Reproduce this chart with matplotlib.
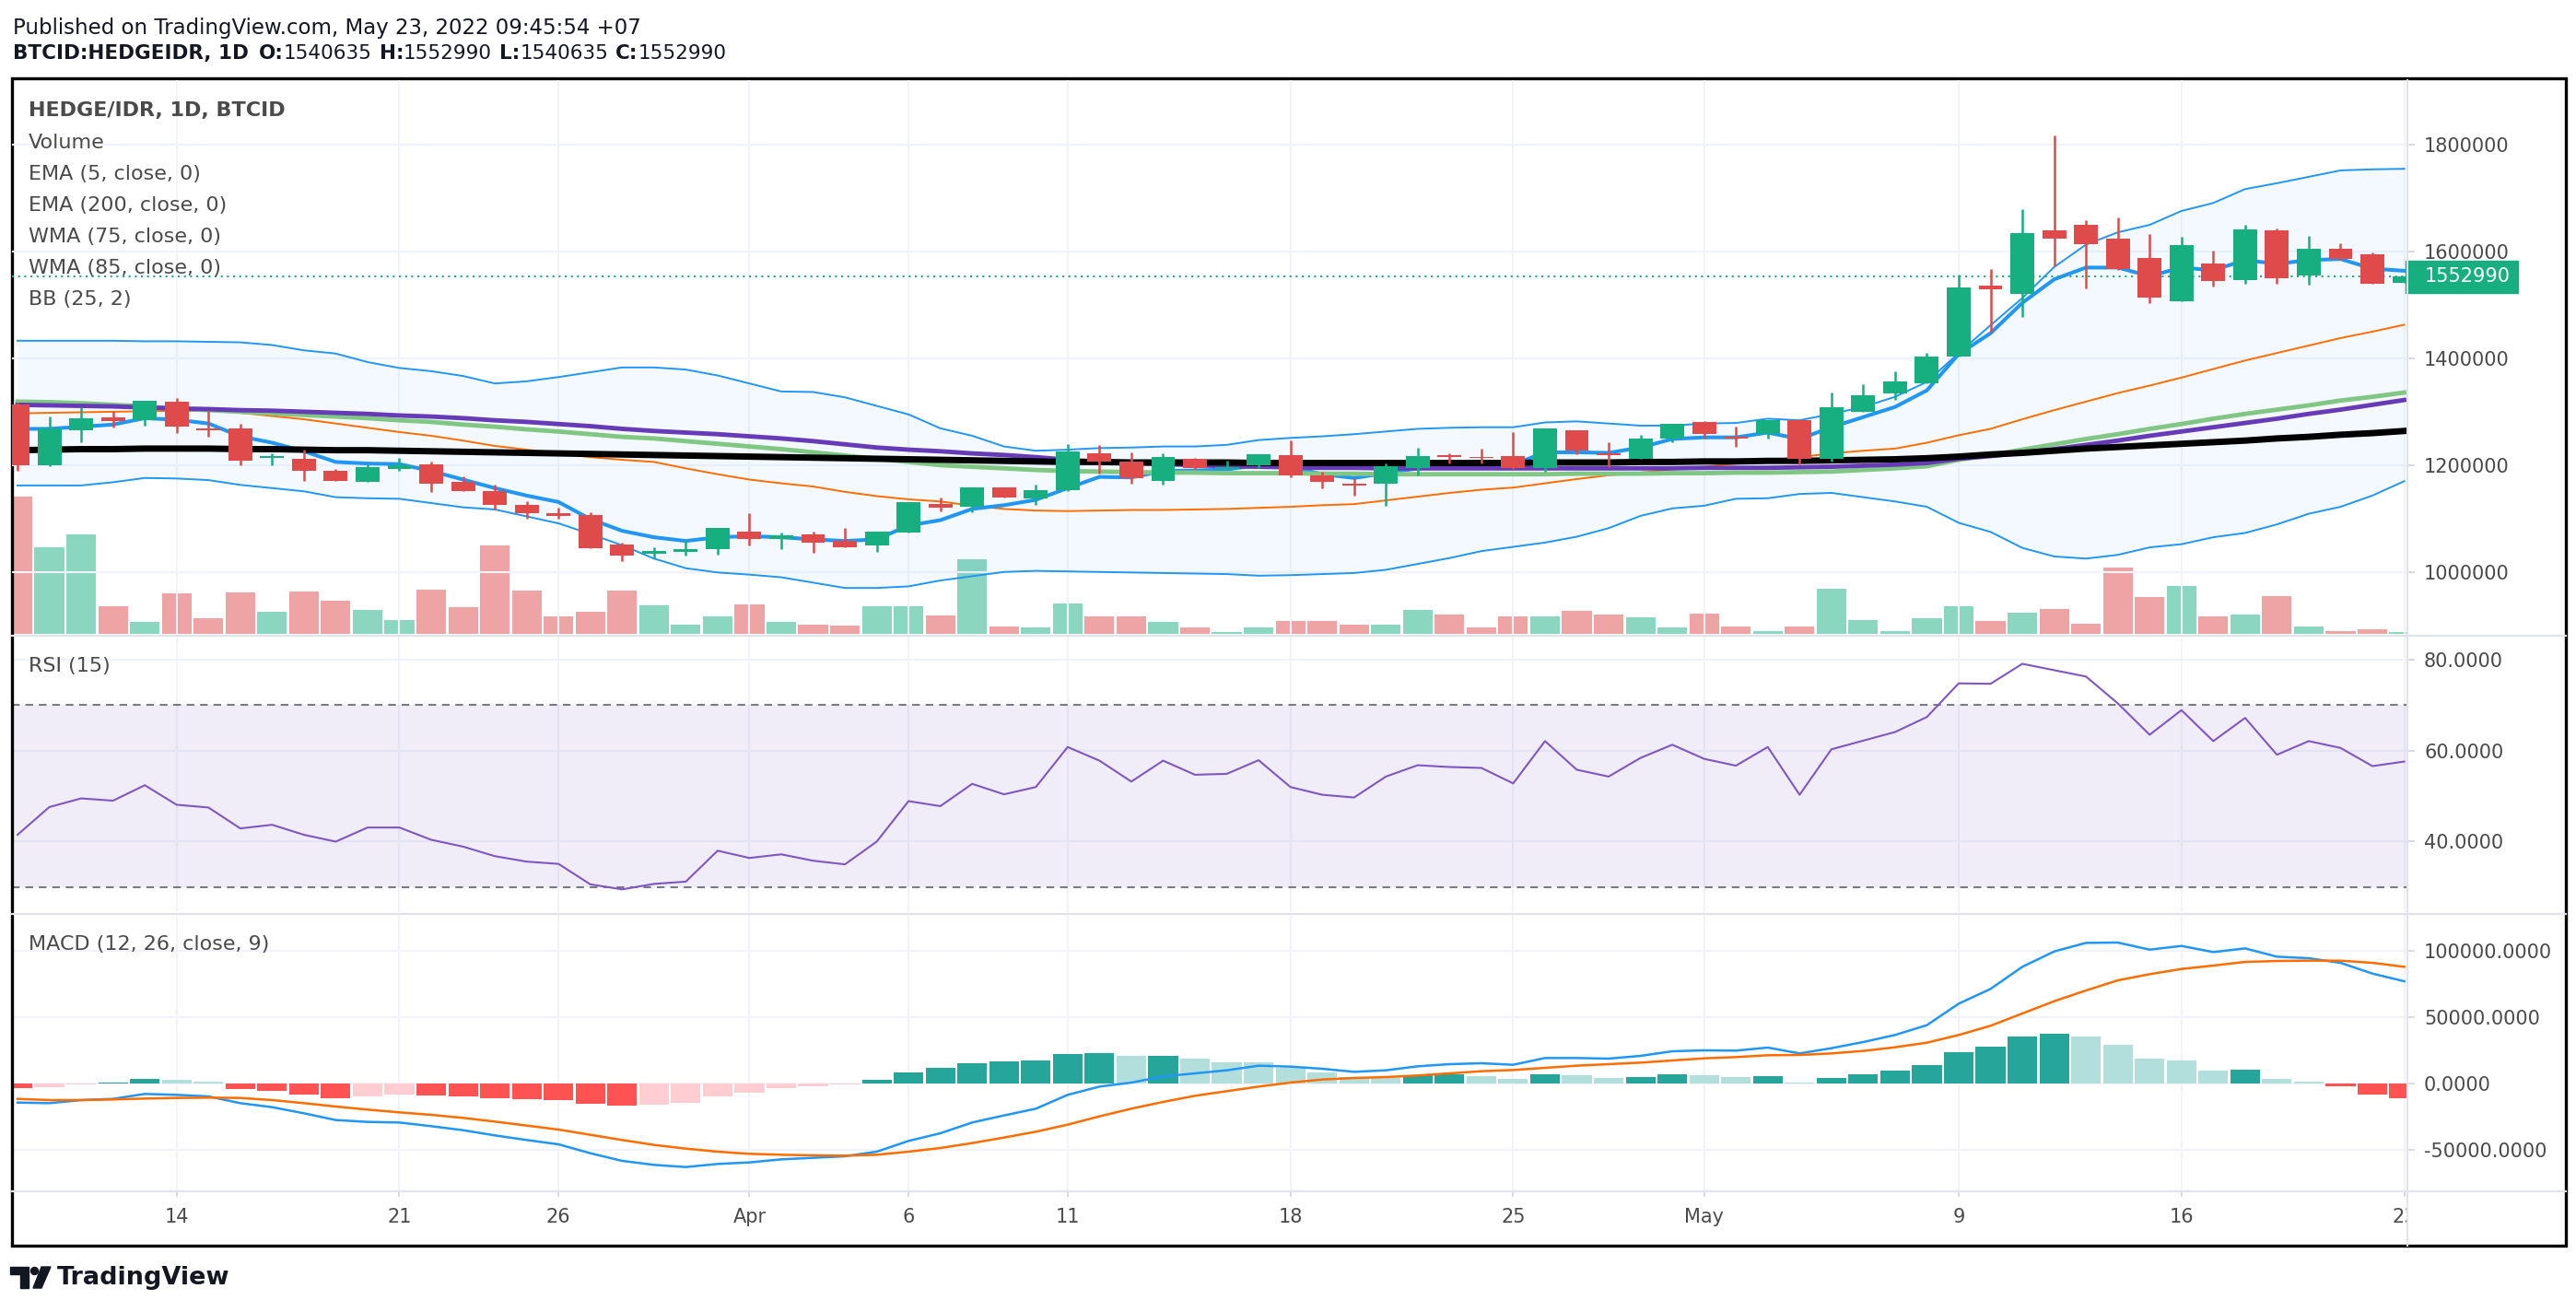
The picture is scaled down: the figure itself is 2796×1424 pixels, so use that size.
import numpy as np
import pandas as pd
import matplotlib
matplotlib.use('Agg')
from matplotlib import pyplot as plt
from matplotlib.patches import Rectangle, Polygon, Circle
from matplotlib.lines import Line2D
from matplotlib.ticker import FormatStrFormatter
from matplotlib.transforms import Affine2D, Bbox, TransformedBbox, blended_transform_factory

W, H, DPI = 2796, 1424, 100

# ---- data (prices in thousand IDR) ----
dates = pd.date_range('2022-03-09', '2022-05-23', freq='D')

open_k = [1314, 1200, 1265, 1290, 1284, 1319, 1268, 1268, 1213, 1211,
          1190, 1168, 1192, 1202, 1168, 1152, 1126, 1110, 1107, 1052,
          1034, 1038, 1042, 1076, 1061, 1071, 1058, 1049, 1074, 1127,
          1122, 1159, 1138, 1154, 1223, 1207, 1171, 1211, 1193, 1200,
          1219, 1180, 1165, 1166, 1194, 1219, 1216, 1217, 1194, 1266,
          1223, 1212, 1249, 1280, 1253, 1258, 1284, 1212, 1299, 1334,
          1353, 1403, 1536, 1520, 1639, 1650, 1624, 1588, 1507, 1577,
          1547, 1639, 1555, 1605, 1595, 1540.635]
high_k = [1317, 1292, 1308, 1302, 1321, 1326, 1302, 1278, 1223, 1229,
          1193, 1202, 1214, 1207, 1179, 1164, 1133, 1120, 1112, 1055,
          1047, 1060, 1083, 1110, 1073, 1075, 1083, 1076, 1131, 1140,
          1159, 1159, 1164, 1240, 1238, 1224, 1223, 1214, 1209, 1221,
          1247, 1187, 1175, 1203, 1233, 1222, 1231, 1262, 1269, 1266,
          1243, 1257, 1278, 1283, 1272, 1284, 1284, 1336, 1352, 1376,
          1410, 1557, 1567, 1679, 1817, 1658, 1664, 1632, 1627, 1602,
          1650, 1643, 1630, 1615, 1598, 1552.990]
low_k = [1189, 1198, 1243, 1271, 1274, 1261, 1254, 1199, 1200, 1171,
         1170, 1168, 1190, 1149, 1151, 1117, 1099, 1100, 1045, 1021,
         1026, 1031, 1032, 1050, 1042, 1035, 1047, 1037, 1073, 1113,
         1111, 1140, 1125, 1152, 1185, 1166, 1164, 1193, 1193, 1194,
         1177, 1156, 1143, 1124, 1181, 1204, 1204, 1193, 1188, 1220,
         1197, 1211, 1243, 1249, 1235, 1250, 1202, 1207, 1299, 1323,
         1353, 1403, 1449, 1478, 1572, 1531, 1565, 1504, 1507, 1534,
         1540, 1540, 1538, 1584, 1540, 1540.635]
close_k = [1199, 1268, 1288, 1282, 1321, 1272, 1265, 1208, 1217, 1189,
           1170, 1197, 1200, 1166, 1151, 1125, 1110, 1104, 1045, 1031,
           1039, 1043, 1083, 1062, 1068, 1054, 1047, 1076, 1131, 1121,
           1159, 1140, 1154, 1226, 1206, 1175, 1216, 1194, 1197, 1221,
           1180, 1168, 1162, 1198, 1217, 1215, 1213, 1194, 1269, 1228,
           1218, 1250, 1278, 1259, 1249, 1284, 1212, 1308, 1331, 1357,
           1404, 1532, 1529, 1635, 1624, 1614, 1568, 1513, 1612, 1545,
           1641, 1550, 1605, 1586, 1540, 1552.990]
volume = [447, 281, 323, 89, 38, 131, 50, 134, 71, 137,
          107, 77, 44, 143, 86, 287, 140, 56, 71, 140,
          92, 29, 56, 95, 38, 29, 26, 89, 89, 59,
          242, 23, 20, 98, 56, 56, 38, 20, 5, 20,
          41, 41, 29, 29, 77, 62, 20, 57, 57, 74,
          62, 53, 20, 65, 23, 8, 23, 147, 44, 8,
          50, 89, 41, 68, 80, 32, 215, 119, 155, 57,
          62, 122, 23, 8, 14, 6]

ema5_k = [1268, 1268, 1272, 1276, 1288, 1285, 1278, 1254, 1242, 1226,
          1206, 1203, 1202, 1189, 1173, 1157, 1143, 1131, 1099, 1077,
          1065, 1058, 1065, 1067, 1065, 1061, 1058, 1061, 1087, 1097,
          1118, 1125, 1135, 1157, 1178, 1177, 1189, 1190, 1192, 1200,
          1197, 1183, 1176, 1185, 1194, 1202, 1206, 1201, 1224, 1224,
          1223, 1233, 1249, 1252, 1252, 1261, 1249, 1271, 1290, 1309,
          1340, 1408, 1447, 1504, 1548, 1570, 1570, 1554, 1570, 1565,
          1584, 1577, 1584, 1586, 1568, 1564]
ema200_k = [1228, 1229, 1230, 1230, 1231, 1231, 1231, 1230, 1230, 1229,
            1228, 1228, 1227, 1226, 1225, 1224, 1223, 1222, 1221, 1220,
            1219, 1218, 1217, 1216, 1215, 1214, 1213, 1212, 1211, 1210,
            1209, 1208, 1207, 1206, 1206, 1205, 1205, 1205, 1205, 1204,
            1204, 1204, 1204, 1204, 1204, 1204, 1204, 1204, 1205, 1205,
            1205, 1206, 1206, 1207, 1207, 1208, 1208, 1209, 1210, 1211,
            1213, 1216, 1220, 1223, 1227, 1231, 1234, 1237, 1240, 1243,
            1246, 1250, 1253, 1257, 1260, 1264]
wma75_k = [1319, 1318, 1316, 1313, 1310, 1306, 1303, 1300, 1297, 1294,
           1291, 1288, 1284, 1281, 1276, 1272, 1267, 1263, 1258, 1253,
           1250, 1245, 1240, 1235, 1230, 1224, 1218, 1212, 1206, 1200,
           1197, 1194, 1191, 1189, 1188, 1187, 1186, 1186, 1185, 1185,
           1185, 1184, 1184, 1183, 1183, 1183, 1183, 1183, 1183, 1184,
           1184, 1184, 1185, 1185, 1186, 1186, 1187, 1188, 1191, 1194,
           1198, 1210, 1219, 1229, 1239, 1249, 1258, 1268, 1277, 1287,
           1296, 1304, 1312, 1321, 1328, 1336]
wma85_k = [1313, 1312, 1311, 1310, 1308, 1306, 1305, 1303, 1302, 1300,
           1298, 1296, 1293, 1291, 1288, 1284, 1281, 1277, 1273, 1268,
           1264, 1261, 1258, 1254, 1250, 1245, 1239, 1233, 1229, 1226,
           1222, 1219, 1215, 1210, 1206, 1204, 1202, 1200, 1198, 1197,
           1196, 1195, 1195, 1194, 1194, 1194, 1194, 1194, 1194, 1194,
           1194, 1194, 1194, 1195, 1195, 1195, 1196, 1197, 1199, 1201,
           1204, 1212, 1217, 1223, 1230, 1238, 1246, 1255, 1263, 1271,
           1279, 1287, 1296, 1304, 1313, 1322]
bb_basis_k = [1297, 1298, 1299, 1300, 1301, 1302, 1302, 1298, 1292, 1286,
              1278, 1270, 1262, 1255, 1246, 1236, 1229, 1222, 1215, 1210,
              1206, 1194, 1183, 1173, 1166, 1160, 1150, 1142, 1136, 1132,
              1124, 1118, 1115, 1114, 1115, 1116, 1116, 1117, 1118, 1120,
              1122, 1125, 1127, 1134, 1141, 1148, 1154, 1158, 1166, 1174,
              1181, 1186, 1192, 1197, 1203, 1209, 1215, 1222, 1227, 1231,
              1242, 1256, 1268, 1286, 1303, 1319, 1335, 1349, 1364, 1380,
              1396, 1410, 1424, 1438, 1450, 1463]
bb_upper_k = [1433, 1433, 1433, 1433, 1432, 1432, 1431, 1430, 1425, 1415,
              1409, 1393, 1382, 1376, 1367, 1353, 1357, 1365, 1374, 1383,
              1383, 1379, 1368, 1353, 1338, 1337, 1327, 1311, 1295, 1269,
              1255, 1235, 1227, 1229, 1232, 1233, 1235, 1235, 1238, 1247,
              1251, 1254, 1258, 1263, 1268, 1270, 1271, 1271, 1280, 1282,
              1278, 1274, 1274, 1278, 1279, 1287, 1284, 1296, 1309, 1328,
              1356, 1410, 1462, 1513, 1571, 1613, 1636, 1650, 1676, 1691,
              1717, 1728, 1740, 1752, 1754, 1755]
bb_lower_k = [1162, 1162, 1162, 1168, 1176, 1175, 1172, 1163, 1157, 1151,
              1140, 1138, 1137, 1129, 1121, 1117, 1104, 1091, 1071, 1050,
              1025, 1007, 999, 995, 990, 980, 970, 970, 973, 984,
              992, 1000, 1002, 1001, 1000, 999, 998, 997, 996, 993,
              994, 996, 998, 1004, 1015, 1026, 1039, 1047, 1055, 1066,
              1082, 1105, 1119, 1124, 1137, 1138, 1146, 1148, 1140, 1132,
              1122, 1092, 1075, 1045, 1029, 1025, 1032, 1046, 1052, 1065,
              1073, 1089, 1109, 1122, 1143, 1170]

rsi = [41.5, 47.6, 49.5, 49.0, 52.4, 48.1, 47.5, 42.9, 43.7, 41.5,
       40.0, 43.1, 43.1, 40.4, 38.9, 36.8, 35.6, 35.1, 30.6, 29.5,
       30.7, 31.2, 38.0, 36.4, 37.2, 35.8, 35.0, 40.0, 48.9, 47.8,
       52.7, 50.4, 52.0, 60.8, 57.8, 53.2, 57.8, 54.7, 54.9, 57.9,
       52.0, 50.3, 49.7, 54.3, 56.8, 56.4, 56.2, 52.8, 62.1, 55.8,
       54.3, 58.4, 61.3, 58.2, 56.7, 60.8, 50.3, 60.3, 62.2, 64.1,
       67.4, 74.8, 74.7, 79.1, 77.7, 76.3, 70.4, 63.5, 68.9, 62.1,
       67.2, 59.1, 62.1, 60.6, 56.6, 57.6]

macd = [-14310, -14771, -12463, -11540, -7847, -8540, -9694, -14771, -17772, -22388,
        -27465, -28850, -29312, -32081, -35082, -39005, -42467, -45698, -52392, -58162,
        -61162, -62778, -60470, -59316, -57008, -55854, -54700, -51238, -43160, -37390,
        -29312, -24003, -18926, -8540, -2308, 692, 5308, 7616, 9924, 13386,
        12694, 11078, 8770, 9924, 12925, 14540, 15233, 14079, 19156, 19156,
        18695, 20772, 24234, 24926, 24696, 27004, 22618, 26542, 31158, 36466,
        43852, 60008, 71086, 87704, 99244, 105706, 105937, 100629, 103398, 98782,
        101552, 95320, 94166, 90704, 82626, 76856]
signal = [-11540, -12463, -12463, -12002, -11309, -10848, -10617, -10848, -12463, -14771,
          -17310, -19618, -21695, -23542, -25850, -28619, -31620, -34620, -38544, -42467,
          -46160, -48930, -51238, -52853, -53546, -54007, -54238, -53546, -51238, -48468,
          -44775, -40621, -36236, -30927, -24696, -18926, -13848, -9232, -5770, -2308,
          692, 3000, 4154, 4847, 6001, 7616, 9232, 10155, 11771, 13386,
          14540, 15694, 17310, 18926, 19849, 21234, 21464, 22618, 24465, 27234,
          30696, 36466, 43390, 52622, 61854, 69932, 77549, 82165, 86088, 88627,
          91397, 92089, 92320, 92320, 90704, 87704]
hist = [-3231, -2770, -462, 692, 3462, 2770, 1385, -3924, -5539, -8078,
        -10848, -9694, -8078, -9001, -9694, -10848, -11540, -12463, -15002, -16618,
        -15925, -14540, -9694, -6693, -3231, -2077, -462, 2770, 8309, 11771,
        15233, 16618, 17310, 22157, 22849, 20772, 21000, 18695, 15925, 15700,
        12000, 8309, 4616, 4400, 6462, 6700, 5539, 3462, 6924, 6232,
        4154, 4847, 6924, 6232, 4847, 5539, 923, 4154, 6924, 9694,
        14079, 23542, 27696, 35312, 37390, 35312, 29081, 18695, 17310, 9694,
        10386, 3462, 1616, -2077, -8078, -10848]

tick_dates = ['2022-03-14', '2022-03-21', '2022-03-26', '2022-04-01', '2022-04-06', '2022-04-11',
              '2022-04-18', '2022-04-25', '2022-05-01', '2022-05-09', '2022-05-16', '2022-05-23']
tick_labels = ['14', '21', '26', 'Apr', '6', '11', '18', '25', 'May', '9', '16', '23']
last_price = 1552990

# ---- prep ----
k = 1000
o = np.array(open_k) * k
hi = np.array(high_k) * k
lo = np.array(low_k) * k
c = np.array(close_k) * k
x = np.arange(len(dates))
up = c >= o
UP, DOWN = '#17af80', '#df4b4a'
candle_col = np.where(up, UP, DOWN)
txt_col = '#4a4a4a'
grid_col = '#f0f3fa'
sep_col = '#e0e3eb'

fig = plt.figure(figsize=(W / DPI, H / DPI), dpi=DPI)
fig.patch.set_facecolor('white')
pix = Affine2D().scale(1 / W, -1 / H).translate(0, 1) + fig.transFigure


def px_box(x0, y0, x1, y1):
    return [x0 / W, 1 - y1 / H, (x1 - x0) / W, (y1 - y0) / H]


ax_p = fig.add_axes(px_box(13, 87, 2613, 688))
ax_r = fig.add_axes(px_box(13, 691, 2613, 990), sharex=ax_p)
ax_m = fig.add_axes(px_box(13, 993, 2613, 1292), sharex=ax_p)
ax_v = ax_p.twinx()
ax_p.set_zorder(ax_v.get_zorder() + 1)
ax_p.patch.set_visible(False)

for ax in (ax_p, ax_r, ax_m, ax_v):
    for s in ax.spines.values():
        s.set_visible(False)

for ax in (ax_p, ax_r, ax_m):
    ax.yaxis.tick_right()
    ax.tick_params(axis='y', length=6, width=1.2, color='#d1d4dc', pad=7,
                   labelsize=15, labelcolor=txt_col)
    ax.tick_params(axis='x', length=0, labelbottom=False)
    ax.grid(True, color=grid_col, lw=1.5)
    ax.set_axisbelow(True)

# ---- price panel ----
ax_p.set_xlim(-0.174, 75.1)
ax_p.set_ylim(884000, 1921000)
ax_p.set_yticks(np.arange(1000000, 1800001, 200000))
ax_p.yaxis.set_major_formatter(FormatStrFormatter('%d'))

vcol = np.where(up, UP, DOWN)
ax_v.bar(x, volume, width=0.93, color=vcol, alpha=0.5, lw=0)
ax_v.set_ylim(0, 1800)
ax_v.set_yticks([])

ax_p.fill_between(x, np.array(bb_lower_k) * k, np.array(bb_upper_k) * k,
                  color='#2196f3', alpha=0.05, lw=0, zorder=1)
ax_p.plot(x, np.array(bb_upper_k) * k, color='#2196f3', lw=1.4, zorder=2)
ax_p.plot(x, np.array(bb_lower_k) * k, color='#2196f3', lw=1.4, zorder=2)
ax_p.plot(x, np.array(bb_basis_k) * k, color='#ff6d00', lw=1.4, zorder=2)
ax_p.plot(x, np.array(ema5_k) * k, color='#2196f3', lw=2.9, zorder=3)
ax_p.plot(x, np.array(wma75_k) * k, color='#81c784', lw=3.5, zorder=3)
ax_p.plot(x, np.array(wma85_k) * k, color='#673ab7', lw=3.5, zorder=3)
ax_p.plot(x, np.array(ema200_k) * k, color='black', lw=5, zorder=4)

ax_p.axhline(last_price, color=UP, lw=1.5, ls=(0, (1, 2.2)), zorder=4.5)

body_bot = np.minimum(o, c)
body_h = np.maximum(np.abs(c - o), 1700)
ax_p.vlines(x, lo, hi, color=candle_col, lw=1.8, zorder=5)
ax_p.bar(x, body_h, bottom=body_bot, width=0.75, color=candle_col, lw=0, zorder=6)

# last price tag
bt = blended_transform_factory(ax_p.transAxes, ax_p.transData)
ax_p.add_patch(Rectangle((0.9992, last_price - 30250), 0.0469, 60500, transform=bt,
                         color=UP, clip_on=False, zorder=10))
ax_p.text(1.0073, last_price, '%d' % last_price, transform=bt, color='white',
          fontsize=15, va='center', ha='left', zorder=11)

# ---- RSI panel ----
ax_r.set_ylim(24.49, 85.07)
ax_r.set_yticks([40, 60, 80])
ax_r.yaxis.set_major_formatter(FormatStrFormatter('%.4f'))
ax_r.axhspan(30, 70, color='#7e57c2', alpha=0.1, lw=0)
for lvl in (30, 70):
    ax_r.axhline(lvl, color='#787b86', lw=1.5, dashes=(4, 3))
ax_r.plot(x, rsi, color='#7e57c2', lw=1.5)

# ---- MACD panel ----
ax_m.set_ylim(-80330, 126728)
ax_m.set_yticks([-50000, 0, 50000, 100000])
ax_m.yaxis.set_major_formatter(FormatStrFormatter('%.4f'))
hv = np.array(hist)
rising = np.r_[False, hv[1:] >= hv[:-1]]
hcol = np.where(hv >= 0, np.where(rising, '#26a69a', '#b2dfdb'),
                np.where(rising, '#ffcdd2', '#ff5252'))
ax_m.bar(x, hv, width=0.93, color=hcol, lw=0)
ax_m.plot(x, macd, color='#2196f3', lw=1.8)
ax_m.plot(x, signal, color='#ff6d00', lw=1.8)

tick_pos = [dates.get_loc(pd.Timestamp(d)) for d in tick_dates]
ax_m.set_xticks(tick_pos)
ax_m.set_xticklabels(tick_labels)
ax_m.tick_params(axis='x', labelbottom=True, length=5, width=1.2, color='#d1d4dc',
                 pad=9, labelsize=15, labelcolor=txt_col)
# the last date label is cut by the price scale, as in the app
clip = TransformedBbox(Bbox.from_extents(0, 0, 2613 / W, 1), fig.transFigure)
for tk in ax_m.xaxis.get_major_ticks():
    tk.label1.set_clip_box(clip)
    tk.label1.set_clip_on(True)

# ---- frame, separators ----
for yy in (689.5, 991.5, 1293):
    fig.add_artist(Line2D([13, 2785], [yy, yy], transform=pix, color=sep_col, lw=1.6))
fig.add_artist(Line2D([2613, 2613], [87, 1352], transform=pix, color=sep_col, lw=1.4))
fig.add_artist(Rectangle((13, 85), 2772, 1267, transform=pix, fill=False,
                         ec='black', lw=2.4))


def ftext(xp, yp, s, **kw):
    kw.setdefault('va', 'center')
    kw.setdefault('ha', 'left')
    return fig.text(xp / W, 1 - yp / H, s, **kw)


# header
ftext(14, 30, 'Published on TradingView.com, May 23, 2022 09:45:54 +07',
      fontsize=16.5, color='#131722')
renderer = fig.canvas.get_renderer()
xc = 14
parts = [('BTCID:HEDGEIDR, 1D', 'bold', 11), ('O:', 'bold', 0), ('1540635', 'normal', 8),
         ('H:', 'bold', 0), ('1552990', 'normal', 8), ('L:', 'bold', 0),
         ('1540635', 'normal', 8), ('C:', 'bold', 0), ('1552990', 'normal', 0)]
for s, wt, gap in parts:
    t = ftext(xc, 58, s, fontsize=15.5, fontweight=wt, color='#131722')
    xc += t.get_window_extent(renderer=renderer).width + gap

# legend
ftext(31, 120, 'HEDGE/IDR, 1D, BTCID', fontsize=16, fontweight='bold', color=txt_col)
legend_items = ['Volume', 'EMA (5, close, 0)', 'EMA (200, close, 0)',
                'WMA (75, close, 0)', 'WMA (85, close, 0)', 'BB (25, 2)']
for i, s in enumerate(legend_items):
    ftext(31, 155 + i * 34, s, fontsize=16, color=txt_col)
ftext(31, 723, 'RSI (15)', fontsize=16, color=txt_col)
ftext(31, 1025, 'MACD (12, 26, close, 9)', fontsize=16, color=txt_col)

# TradingView logo
logo = '#131722'
fig.add_artist(Polygon([(11, 1375), (31, 1375), (31, 1398), (22, 1398), (22, 1383), (11, 1383)],
                       closed=True, transform=pix, color=logo))
fig.add_artist(Circle((37.5, 1379.5), 4, transform=pix, color=logo))
fig.add_artist(Polygon([(45, 1375), (55, 1375), (45, 1398), (36, 1398)],
                       closed=True, transform=pix, color=logo))
ftext(62, 1387, 'TradingView', fontsize=19.5, fontweight='bold', color=logo)

plt.savefig('out.png', dpi=DPI)
